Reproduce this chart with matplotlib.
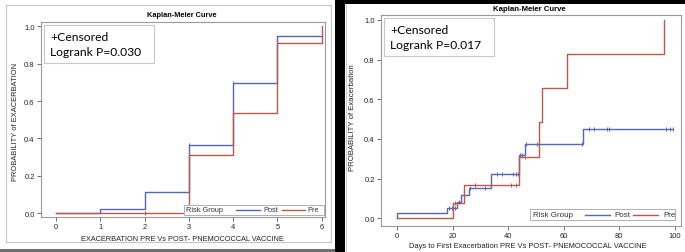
import numpy as np
import matplotlib.pyplot as plt
from matplotlib.patches import Rectangle
from matplotlib.lines import Line2D

W, H = 685, 253

# left panel: number of exacerbations
l_post_t = [0, 1, 2, 3, 4, 5, 6]
l_post_s = [0.0, 0.023, 0.115, 0.365, 0.695, 0.95, 0.95]
l_pre_t = [0, 3, 4, 5, 6]
l_pre_s = [0.0, 0.312, 0.538, 0.909, 1.0]
l_post_cens = [3, 4]
l_pre_cens = [2, 4]
l_xticks = [0, 1, 2, 3, 4, 5, 6]

# right panel: days to first exacerbation
r_post_t = [0, 0, 18, 21.5, 23, 26, 34, 44, 46, 67, 99]
r_post_s = [0.0, 0.027, 0.053, 0.08, 0.117, 0.151, 0.222, 0.319, 0.374, 0.45, 0.45]
r_pre_t = [0, 20, 24, 44, 51, 52, 61, 96]
r_pre_s = [0.0, 0.078, 0.17, 0.307, 0.484, 0.655, 0.827, 1.0]
r_post_cens = [18.6, 19.7, 20.9, 22.3, 26.3, 31.7, 36.1, 37.7, 41.8, 42.8, 43.5,
               44.4, 45.1, 46.4, 50.2, 66.4, 69.2, 71.0, 75.4, 76.3, 96.8, 98.2, 99.4]
r_pre_cens = [20.8, 28.0, 41.2, 43.0, 46.2]
r_xticks = [0, 20, 40, 60, 80, 100]

yticks = [0.0, 0.2, 0.4, 0.6, 0.8, 1.0]

BLUE = '#5568b0'
RED = '#c0574b'
GRID = '#9a9a9a'
SANS = 'Liberation Sans'


def fx(x):
    return x / W


def fy(y):
    return 1 - y / H


def box(x0, y0, x1, y1):
    return [fx(x0), fy(y1), (x1 - x0) / W, (y1 - y0) / H]


def step_val(t, s, c):
    t = np.asarray(t)
    idx = np.searchsorted(t, c, side='right') - 1
    return np.asarray(s)[idx]


def km_panel(ax, post_t, post_s, pre_t, pre_s, post_c, pre_c, xticks, xlim, ylim):
    ax.step(post_t, post_s, where='post', color=BLUE, lw=1.0)
    ax.step(pre_t, pre_s, where='post', color=RED, lw=1.0)
    ax.plot(post_c, step_val(post_t, post_s, post_c), ls='none', marker='|',
            ms=3.5, mew=0.7, color=BLUE)
    ax.plot(pre_c, step_val(pre_t, pre_s, pre_c), ls='none', marker='|',
            ms=3.5, mew=0.7, color=RED)
    ax.set_xlim(*xlim)
    ax.set_ylim(*ylim)
    ax.set_xticks(xticks)
    ax.set_yticks(yticks)
    ax.set_yticklabels([f'{v:.1f}' for v in yticks])
    for sp in ax.spines.values():
        sp.set_color(GRID)
        sp.set_linewidth(0.8)
    ax.tick_params(length=3, width=0.6, color='#555555', pad=1.5,
                   labelsize=5.4, labelcolor='#222222')
    for lab in ax.get_xticklabels() + ax.get_yticklabels():
        lab.set_family(SANS)


def legend(x0, y0, x1, y1, parts, fs):
    fig.add_artist(Rectangle((fx(x0), fy(y1)), (x1 - x0) / W, (y1 - y0) / H,
                             transform=fig.transFigure, facecolor='white',
                             edgecolor='#b0b0b0', lw=0.7, zorder=5))
    yc = fy((y0 + y1) / 2)
    for kind, a, b, val in parts:
        if kind == 'text':
            fig.text(fx(a), yc, val, fontsize=fs, family=SANS, color='#333333',
                     va='center', ha='left', zorder=6)
        else:
            fig.add_artist(Line2D([fx(a), fx(b)], [yc, yc], color=val, lw=1.0,
                                  transform=fig.transFigure, zorder=6))


def note(x0, y0, x1, y1, p):
    fig.add_artist(Rectangle((fx(x0), fy(y1)), (x1 - x0) / W, (y1 - y0) / H,
                             transform=fig.transFigure, facecolor='white',
                             edgecolor='#c8c8c8', lw=0.8, zorder=5))
    fig.text(fx(x0 + 6), fy(y0 + 11.5), '+Censored', fontsize=8.7, family='Lato',
             va='center', ha='left', zorder=6)
    fig.text(fx(x0 + 6), fy(y0 + 26.5), 'Logrank P=' + p, fontsize=8.7,
             family='Lato', va='center', ha='left', zorder=6)


fig = plt.figure(figsize=(W / 100, H / 100), dpi=100)
fig.patch.set_facecolor('white')

# frames / black separators of the composite image
fig.add_artist(Rectangle((fx(6), fy(243)), 325 / W, 237 / H, transform=fig.transFigure,
                         facecolor='none', edgecolor='#c4c4c4', lw=0.8))
fig.add_artist(Rectangle((0, 0), fx(335), 3 / H, transform=fig.transFigure,
                         facecolor='#707070', edgecolor='none'))
fig.add_artist(Rectangle((fx(335), 0), 10 / W, 1, transform=fig.transFigure,
                         facecolor='black', edgecolor='none'))
fig.add_artist(Rectangle((fx(335), fy(5)), 1 - fx(335), 5 / H,
                         transform=fig.transFigure, facecolor='black', edgecolor='none'))
fig.add_artist(Line2D([fx(346.5), fx(346.5)], [0, fy(5)], color='#cccccc', lw=0.8,
                      transform=fig.transFigure))

# left panel
ax1 = fig.add_axes(box(41, 23, 325, 218))
km_panel(ax1, l_post_t, l_post_s, l_pre_t, l_pre_s, l_post_cens, l_pre_cens,
         l_xticks, (-0.339, 6.075), (-0.0198, 1.023))
fig.text(fx(182), fy(15.5), 'Kaplan-Meier Curve', fontsize=5.3, family=SANS,
         weight='bold', ha='center', va='center')
fig.text(fx(16), fy(122), 'PROBABILITY of EXACERBATION', fontsize=5.4, family=SANS,
         rotation=90, ha='center', va='center', color='#222222')
fig.text(fx(182), fy(240), 'EXACERBATION PRE Vs POST- PNEMOCOCCAL VACCINE',
         fontsize=5.3, family=SANS, ha='center', va='center', color='#222222')
note(44, 26, 154, 64, '0.030')
legend(184, 206, 324, 216, [('text', 186.5, 0, 'Risk Group'),
                            ('line', 236, 260, BLUE), ('text', 263, 0, 'Post'),
                            ('line', 282, 305, RED), ('text', 307, 0, 'Pre')], 5.3)

# right panel
ax2 = fig.add_axes(box(381, 16, 681, 227))
km_panel(ax2, r_post_t, r_post_s, r_pre_t, r_pre_s, r_post_cens, r_pre_cens,
         r_xticks, (-5.76, 102.2), (-0.039, 1.025))
fig.text(fx(529), fy(9.5), 'Kaplan-Meier Curve', fontsize=5.6, family=SANS,
         weight='bold', ha='center', va='center')
fig.text(fx(353), fy(118), 'PROBABILITY of Exacerbation', fontsize=5.6, family=SANS,
         rotation=90, ha='center', va='center', color='#222222')
fig.text(fx(528), fy(247), 'Days to First Exacerbation PRE Vs POST- PNEMOCOCCAL VACCINE',
         fontsize=5.4, family=SANS, ha='center', va='center', color='#222222')
note(384, 19, 494, 57, '0.017')
legend(530, 210, 675, 221, [('text', 533, 0, 'Risk Group'),
                            ('line', 585, 610, BLUE), ('text', 614, 0, 'Post'),
                            ('line', 633, 658, RED), ('text', 663, 0, 'Pre')], 5.8)

fig.savefig('out.png', dpi=100)
